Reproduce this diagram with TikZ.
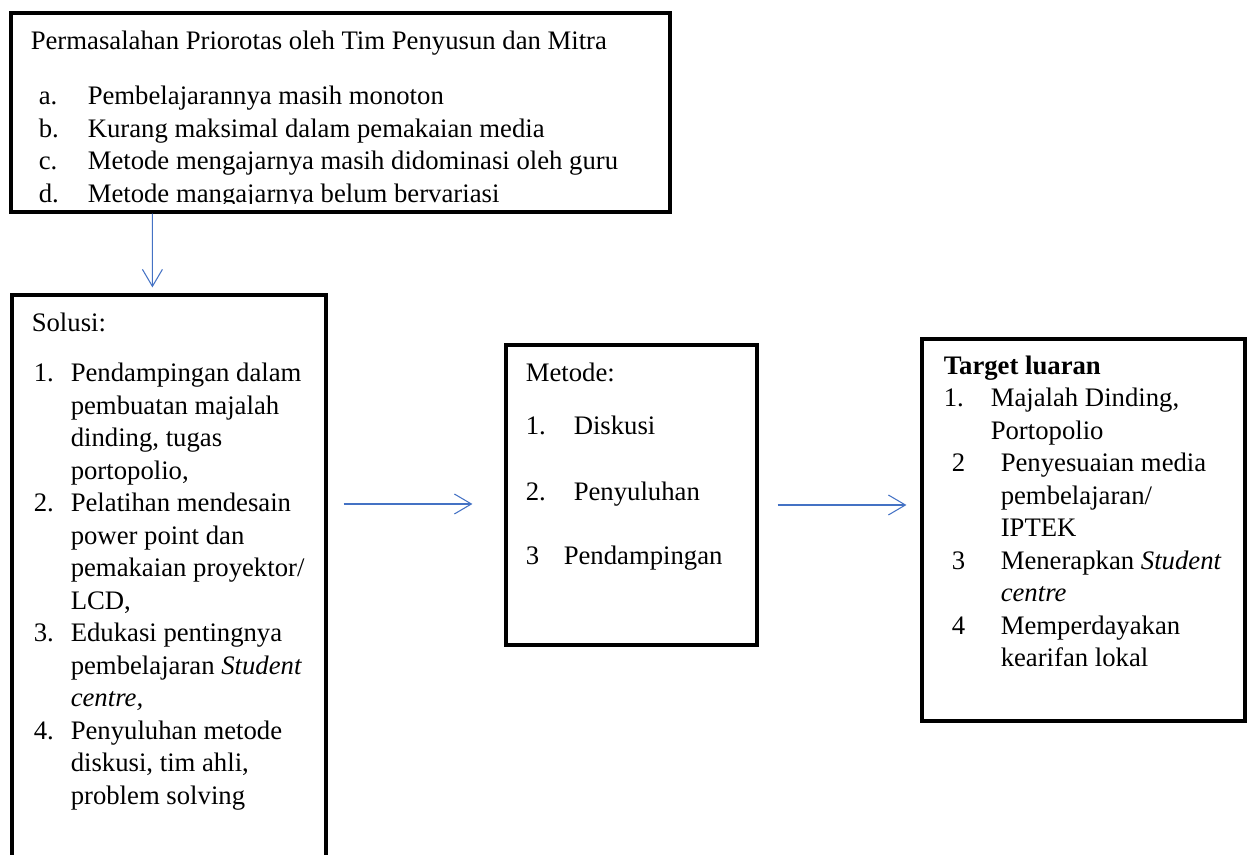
\documentclass[tikz,border=0pt]{standalone}
\usepackage{fontspec}
\setmainfont{Liberation Serif}
\usepackage{tikz}
\usetikzlibrary{arrows.meta,positioning,calc}
\definecolor{flowblue}{RGB}{68,114,196}
\newcommand{\lbl}[2]{\makebox[#1][l]{#2}}

\begin{document}
\begin{tikzpicture}[
box/.style={draw=black, line width=1.8pt, inner sep=0pt},
txt/.style={anchor=north west, inner sep=0pt, align=left,
font=\fontsize{15.2pt}{18.5pt}\selectfont},
arrow/.style={-{Straight Barb[length=0.34cm,width=0.4cm]}, line width=0.6pt, draw=flowblue}
]
\useasboundingbox (0,0) rectangle (25.02,17.1);
\clip (0,0) rectangle (25.02,17.1);

% frames
\node[box, minimum width=13.18cm, minimum height=3.98cm] (prob) at (6.81,14.85) {};
\node[box, minimum width=6.28cm, minimum height=11.6cm] (sol) at (3.38,5.40) {};
\node[box, minimum width=5.02cm, minimum height=6.0cm] (met) at (12.63,7.2) {};
\node[box, minimum width=6.46cm, minimum height=7.64cm] (targ) at (21.67,6.5) {};

% texts
\begin{scope}
\clip (prob.north west) rectangle ([yshift=0.2cm]prob.south east);
\node[txt] (probtxt) at ([xshift=0.42cm,yshift=-0.38cm]prob.north west)
{Permasalahan Priorotas oleh Tim Penyusun dan Mitra\\[0.46cm]
\hspace*{0.16cm}\lbl{0.98cm}{a.}Pembelajarannya masih monoton\\
\hspace*{0.16cm}\lbl{0.98cm}{b.}Kurang maksimal dalam pemakaian media\\
\hspace*{0.16cm}\lbl{0.98cm}{c.}Metode mengajarnya masih didominasi oleh guru\\
\hspace*{0.16cm}\lbl{0.98cm}{d.}Metode mangajarnya belum bervariasi};
\end{scope}

\node[txt] (soltxt) at ([xshift=0.42cm,yshift=-0.38cm]sol.north west)
{Solusi:\\[0.36cm]
\hspace*{0.04cm}\lbl{0.74cm}{1.}Pendampingan dalam\\
\hspace*{0.78cm}pembuatan majalah\\
\hspace*{0.78cm}dinding, tugas\\
\hspace*{0.78cm}portopolio,\\
\hspace*{0.04cm}\lbl{0.74cm}{2.}Pelatihan mendesain\\
\hspace*{0.78cm}power point dan\\
\hspace*{0.78cm}pemakaian proyektor/\\
\hspace*{0.78cm}LCD,\\
\hspace*{0.04cm}\lbl{0.74cm}{3.}Edukasi pentingnya\\
\hspace*{0.78cm}pembelajaran \textit{Student}\\
\hspace*{0.78cm}\textit{centre,}\\
\hspace*{0.04cm}\lbl{0.74cm}{4.}Penyuluhan metode\\
\hspace*{0.78cm}diskusi, tim ahli,\\
\hspace*{0.78cm}problem solving};

\node[txt] (mettxt) at ([xshift=0.42cm,yshift=-0.38cm]met.north west)
{Metode:\\[0.42cm]
\lbl{0.96cm}{1.}Diskusi\\[0.66cm]
\lbl{0.96cm}{2.}Penyuluhan\\[0.64cm]
\lbl{0.76cm}{3}Pendampingan};

\node[txt] (targtxt) at ([xshift=0.46cm,yshift=-0.36cm]targ.north west)
{\textbf{Target luaran}\\
\lbl{0.94cm}{1.}Majalah Dinding,\\
\hspace*{0.94cm}Portopolio\\
\hspace*{0.16cm}\lbl{0.98cm}{2}Penyesuaian media\\
\hspace*{1.14cm}pembelajaran/\\
\hspace*{1.14cm}IPTEK\\
\hspace*{0.16cm}\lbl{0.98cm}{3}Menerapkan \textit{Student}\\
\hspace*{1.14cm}\textit{centre}\\
\hspace*{0.16cm}\lbl{0.98cm}{4}Memperdayakan\\
\hspace*{1.14cm}kearifan lokal};

% connectors
\draw[arrow] ([xshift=2.86cm]prob.south west) -- ([xshift=2.84cm,yshift=0.12cm]sol.north west);
\draw[arrow] ($(sol.east |- met.west)+(0.32,-0.18)$) -- ($(met.west)+(-0.64,-0.18)$);
\draw[arrow] ($(met.east)+(0.38,-0.2)$) -- ($(targ.west |- met.east)+(-0.28,-0.2)$);

\end{tikzpicture}
\end{document}
